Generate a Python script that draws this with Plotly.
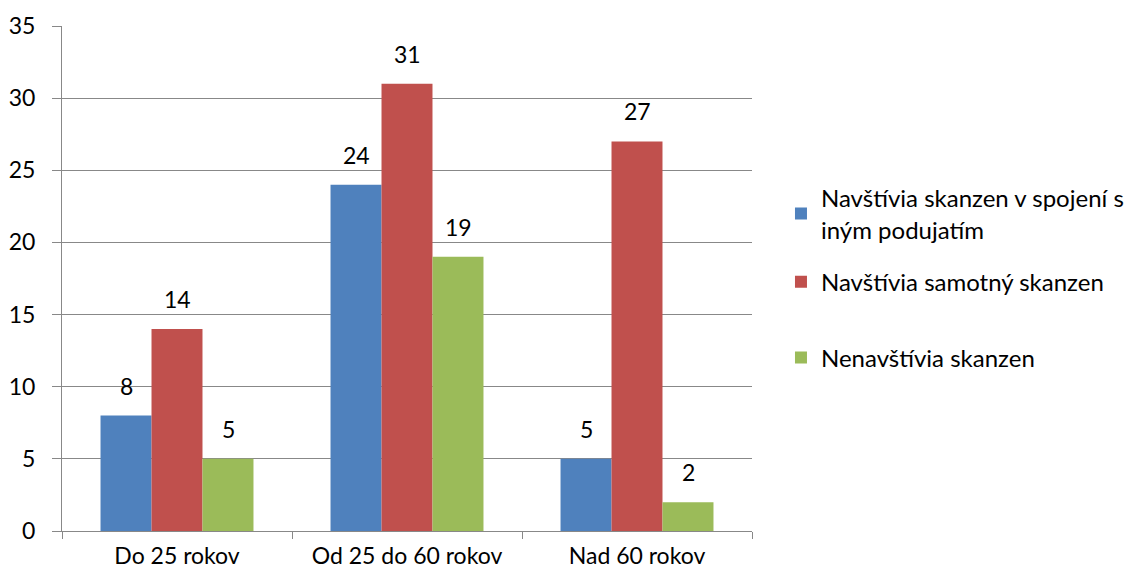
import plotly.graph_objects as go

categories = ["Do 25 rokov", "Od 25 do 60 rokov", "Nad 60 rokov"]
series_names = ["Navštívia skanzen v spojení s<br>iným podujatím",
                "Navštívia samotný skanzen",
                "Nenavštívia skanzen"]
values_blue = [8, 24, 5]
values_red = [14, 31, 27]
values_green = [5, 19, 2]
colors = ["#4F81BD", "#C0504D", "#9BBB59"]
y_ticks = [0, 5, 10, 15, 20, 25, 30, 35]

FONT = "Lato, 'Open Sans', sans-serif"
all_values = [values_blue, values_red, values_green]
legend_ids = ["legend", "legend2", "legend3"]
legend_y = [0.628, 0.493, 0.343]

fig = go.Figure()
for i, (name, vals) in enumerate(zip(series_names, all_values)):
    fig.add_trace(go.Bar(
        x=categories, y=vals, name=name,
        marker=dict(color=colors[i], line=dict(width=0)),
        legend=legend_ids[i],
    ))

bar_px = 51
for i, vals in enumerate(all_values):
    for c, v in zip(categories, vals):
        fig.add_annotation(x=c, y=v, text=str(v), showarrow=False,
                           xshift=(i - 1) * bar_px, yshift=14,
                           yanchor="bottom",
                           font=dict(family=FONT, size=23, color="#000"))

leg_common = dict(font=dict(family=FONT, size=24, color="#000"),
                  bgcolor="rgba(0,0,0,0)", xanchor="left", yanchor="middle",
                  itemwidth=30, tracegroupgap=0)
layout_legends = {}
for lid, ly in zip(legend_ids, legend_y):
    layout_legends[lid] = dict(x=1.042, y=ly, **leg_common)

# page body has an 8px margin; compensate so plot area lands at x 62-752, y 26-531
fig.update_layout(
    width=1127, height=568,
    margin=dict(l=54, r=383, t=18, b=45, autoexpand=False),
    paper_bgcolor="white", plot_bgcolor="white",
    barmode="group", bargap=0.335, bargroupgap=0,
    font=dict(family=FONT, size=23, color="#000"),
    showlegend=True,
    xaxis=dict(type="category", tickson="boundaries", ticks="outside",
               ticklen=7, tickcolor="#888", showline=True, linecolor="#888",
               linewidth=1, showgrid=False, automargin=False,
               ticklabelstandoff=4,
               tickfont=dict(family=FONT, size=23, color="#000")),
    yaxis=dict(range=[0, 35], tickvals=y_ticks, ticks="outside", ticklen=9,
               tickcolor="#888", showline=True, linecolor="#888", linewidth=1,
               showgrid=True, gridcolor="#888", gridwidth=1, zeroline=False,
               automargin=False, ticklabelstandoff=12,
               tickfont=dict(family=FONT, size=23, color="#000")),
    **layout_legends,
)

fig.write_html("out.html")
